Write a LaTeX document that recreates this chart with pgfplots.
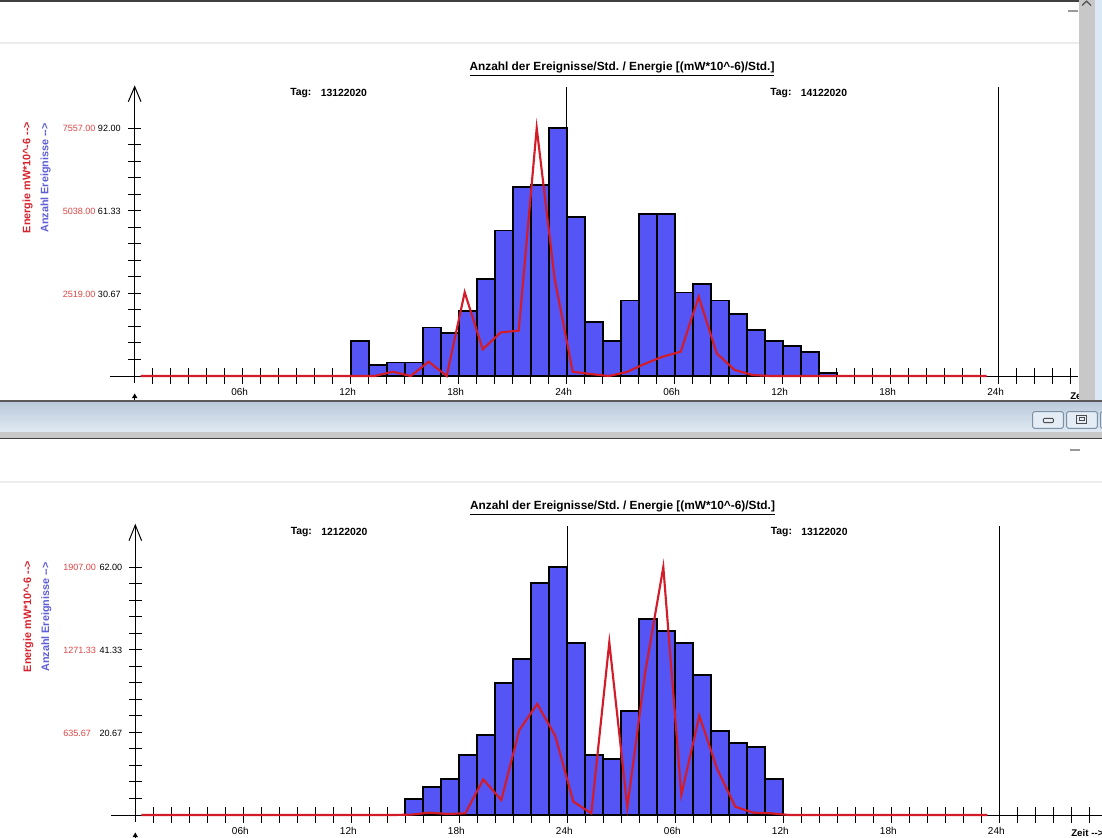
\documentclass[border=0pt]{standalone}
\usepackage{pgfplots}
\usepackage{pgfplotstable}
\pgfplotsset{compat=1.18}
\usepackage{fontspec}
\setmainfont{Liberation Sans}
\frenchspacing
\definecolor{barblue}{RGB}{85,85,245}
\definecolor{linered}{RGB}{212,28,40}
\definecolor{lblred}{RGB}{215,35,45}
\definecolor{tickred}{RGB}{222,70,70}
\definecolor{lblblue}{RGB}{95,95,215}
\definecolor{sepgray}{RGB}{236,236,236}
\definecolor{sbgray}{RGB}{200,200,200}
\definecolor{winblue}{RGB}{220,232,245}
\definecolor{tbtop}{RGB}{186,201,217}
\definecolor{tbbot}{RGB}{222,233,243}
\definecolor{btnborder}{RGB}{125,145,165}
\definecolor{btnfill}{RGB}{228,236,245}

\pgfplotstableread{
h n
12 13
13 4
14 5
15 5
16 18
17 16
18 24
19 36
20 54
21 70
22 71
23 92
24 59
25 20
26 13
27 28
28 60
29 60
30 31
31 34
32 28
33 23
34 17
35 13
36 11
37 9
38 1
39 0
}\topN

\pgfplotstableread{
h e
0 0
1 0
2 0
3 0
4 0
5 0
6 0
7 0
8 0
9 0
10 0
11 0
12 0
13 0
14 130
15 0
16 436
17 0
18 2550
19 813
20 1331
21 1381
22 7557
23 2946
24 131
25 60
26 0
27 120
28 370
29 590
30 740
31 2418
32 691
33 183
34 30
35 0
36 0
37 0
38 0
39 0
40 0
41 0
42 0
43 0
44 0
45 0
46 0
47 0
}\topE

\pgfplotstableread{
h n
15 4
16 7
17 9
18 15
19 20
20 33
21 39
22 58
23 62
24 43
25 15
26 14
27 26
28 49
29 46
30 43
31 35
32 21
33 18
34 17
35 9
36 0
}\botN

\pgfplotstableread{
h e
0 0
1 0
2 0
3 0
4 0
5 0
6 0
7 0
8 0
9 0
10 0
11 0
12 0
13 0
14 0
15 3
16 18
17 8
18 13
19 274
20 115
21 654
22 854
23 607
24 103
25 13
26 1328
27 59
28 1102
29 1907
30 154
31 764
32 351
33 64
34 18
35 13
36 0
37 0
38 0
39 0
40 0
41 0
42 0
43 0
44 0
45 0
46 0
47 0
}\botE

\newcommand\tl{\fontsize{6.8}{8}\selectfont}
\newcommand\xl{\fontsize{7.5}{9}\selectfont}
\newcommand\tagf{\fontsize{7.8}{9}\selectfont\bfseries}
\newcommand\zf{\fontsize{7.3}{9}\selectfont\bfseries}
\newcommand\ttl{\fontsize{8.9}{10}\selectfont\bfseries}
\newcommand\yl{\fontsize{8.1}{10}\selectfont\bfseries}
\newcommand\arr{-{}-{}>}

\begin{document}
\begin{tikzpicture}
\useasboundingbox (0pt,0pt) rectangle (826.5pt,-628.5pt);
\clip (0pt,0pt) rectangle (826.5pt,-628.5pt);
\fill[white] (0pt,0pt) rectangle (826.5pt,-628.5pt);

\begin{scope}[x=0.75pt,y=-0.75pt]
% ---------- top panel chrome ----------
\draw[line width=1.2pt, black!75] (0,0.8) -- (1079,0.8);
\draw[line width=1.5pt, sepgray] (0,42.7) -- (1079,42.7);
\draw[line width=0.8pt, black!40] (1068,11) -- (1078,11);

% ---------- top chart decorations ----------
\begin{scope}[line width=0.75pt, black]
\draw (134.7,86.7) -- (134.7,383);
\draw (128.3,101.7) -- (134.7,86.7) -- (141,101.7);
\foreach \k in {1,...,15} \draw (128.3,{376-16.533*\k}) -- (141,{376-16.533*\k});
\draw (110,376) -- (1078,376);
\foreach \k in {1,...,52} \draw ({134.7+18*\k},368) -- ({134.7+18*\k},384);
\draw (566.7,87) -- (566.7,376);
\draw (998.7,87) -- (998.7,376);
\end{scope}
\foreach \k/\lab in {1/06h,2/12h,3/18h,4/24h,5/06h,6/12h,7/18h,8/24h}
  \node[inner sep=0pt, font=\xl] at ({134.7+108*\k-3},391.7) {\lab};
\node[inner sep=0pt, anchor=west, font=\zf] at (1070,396) {Zeit \arr};
\node[inner sep=0pt, anchor=west, font=\tl, text=tickred] at (62.5,128.3) {7557.00};
\node[inner sep=0pt, anchor=west, font=\tl, text=tickred] at (62.5,211.3) {5038.00};
\node[inner sep=0pt, anchor=west, font=\tl, text=tickred] at (62.5,294.3) {2519.00};
\node[inner sep=0pt, anchor=west, font=\tl] at (97.7,128.3) {92.00};
\node[inner sep=0pt, anchor=west, font=\tl] at (97.7,211.3) {61.33};
\node[inner sep=0pt, anchor=west, font=\tl] at (97.7,294.3) {30.67};
\node[inner sep=0pt, rotate=90, font=\yl, text=lblred] at (27.5,177.5) {Energie mW*10\textasciicircum-6 \arr};
\node[inner sep=0pt, rotate=90, font=\yl, text=lblblue] at (45.5,178) {Anzahl Ereignisse \arr};
\node[inner sep=0pt, font=\ttl] at (622,69) {\underline{Anzahl der Ereignisse/Std. / Energie [(mW*10\textasciicircum-6)/Std.]}};
\node[inner sep=0pt, anchor=west, font=\tagf] at (290,92.7) {Tag:};
\node[inner sep=0pt, anchor=west, font=\tagf] at (320.5,92.7) {13122020};
\node[inner sep=0pt, anchor=west, font=\tagf] at (770,92.7) {Tag:};
\node[inner sep=0pt, anchor=west, font=\tagf] at (800.5,92.7) {14122020};
\draw[line width=0.75pt] (134.7,393.5) -- (134.7,401);
\fill (132,398) -- (134.7,393.5) -- (137.4,398) -- cycle;
\end{scope}

% ---------- top chart data ----------
\begin{axis}[at={(74.025pt,-302.22pt)}, anchor=south west, x=13.5pt, y=2.02174pt,
  xmin=-2, xmax=54, ymin=-10, ymax=110, hide axis, clip=false]
\addplot[ybar interval, fill=barblue, draw=black, line width=1.4pt] table[x=h, y=n] {\topN};
\addplot[linered, line width=1.6pt, sharp plot, mark=none] table[x expr=\thisrow{h}+1/3, y expr=\thisrow{e}*92/7557] {\topE};
\end{axis}

\begin{scope}[x=0.75pt,y=-0.75pt]
% ---------- bottom panel chrome ----------
\draw[line width=0.8pt, black!40] (1070,450) -- (1080,450);
\draw[line width=1.5pt, sepgray] (0,481.7) -- (1102,481.7);

% ---------- bottom chart decorations ----------
\begin{scope}[line width=0.75pt, black]
\draw (135.3,525) -- (135.3,822);
\draw (129,540.7) -- (135.3,525) -- (141.6,540.7);
\foreach \k in {1,...,15} \draw (129,{815-16.533*\k}) -- (141.6,{815-16.533*\k});
\draw (111,815) -- (1102,815);
\foreach \k in {1,...,53} \draw ({135.3+18*\k},807) -- ({135.3+18*\k},823);
\draw (567.3,526) -- (567.3,815);
\draw (999.3,526) -- (999.3,815);
\end{scope}
\foreach \k/\lab in {1/06h,2/12h,3/18h,4/24h,5/06h,6/12h,7/18h,8/24h}
  \node[inner sep=0pt, font=\xl] at ({135.3+108*\k-3},830.7) {\lab};
\node[inner sep=0pt, anchor=west, font=\zf] at (1071,833.5) {Zeit \arr};
\node[inner sep=0pt, anchor=west, font=\tl, text=tickred] at (63,567.3) {1907.00};
\node[inner sep=0pt, anchor=west, font=\tl, text=tickred] at (63,650.3) {1271.33};
\node[inner sep=0pt, anchor=west, font=\tl, text=tickred] at (63,733) {635.67};
\node[inner sep=0pt, anchor=west, font=\tl] at (99.3,567.3) {62.00};
\node[inner sep=0pt, anchor=west, font=\tl] at (99.3,650.3) {41.33};
\node[inner sep=0pt, anchor=west, font=\tl] at (99.3,733) {20.67};
\node[inner sep=0pt, rotate=90, font=\yl, text=lblred] at (28.3,616.5) {Energie mW*10\textasciicircum-6 \arr};
\node[inner sep=0pt, rotate=90, font=\yl, text=lblblue] at (46.3,617) {Anzahl Ereignisse \arr};
\node[inner sep=0pt, font=\ttl] at (622.5,508) {\underline{Anzahl der Ereignisse/Std. / Energie [(mW*10\textasciicircum-6)/Std.]}};
\node[inner sep=0pt, anchor=west, font=\tagf] at (290.5,531.7) {Tag:};
\node[inner sep=0pt, anchor=west, font=\tagf] at (321,531.7) {12122020};
\node[inner sep=0pt, anchor=west, font=\tagf] at (770.5,531.7) {Tag:};
\node[inner sep=0pt, anchor=west, font=\tagf] at (801,531.7) {13122020};
\draw[line width=0.75pt] (135.3,832.5) -- (135.3,838);
\fill (132.6,837) -- (135.3,832.5) -- (138,837) -- cycle;
\end{scope}

% ---------- bottom chart data ----------
\begin{axis}[at={(74.475pt,-626.25pt)}, anchor=south west, x=13.5pt, y=3pt,
  xmin=-2, xmax=54, ymin=-5, ymax=80, hide axis, clip=false]
\addplot[ybar interval, fill=barblue, draw=black, line width=1.4pt] table[x=h, y=n] {\botN};
\addplot[linered, line width=1.6pt, sharp plot, mark=none] table[x expr=\thisrow{h}+1/3, y expr=\thisrow{e}*62/1907] {\botE};
\end{axis}

\begin{scope}[x=0.75pt,y=-0.75pt]
% ---------- scrollbar and toolbar (on top) ----------
\fill[sbgray] (1079,0) rectangle (1094.5,401);
\fill[winblue] (1094.5,0) rectangle (1102,401);
\draw[line width=1pt, black!65] (1082,5.5) -- (1086.5,1.2) -- (1091,5.5);
\fill[top color=tbtop, bottom color=tbbot] (0,401) rectangle (1102,431.5);
\fill[sbgray] (0,431.5) rectangle (1102,438);
\draw[line width=1pt, black!65] (0,401) -- (1102,401);
\draw[line width=1pt, black!75] (0,438.6) -- (1102,438.6);
\draw[rounded corners=1.5pt, draw=btnborder, fill=btnfill, line width=0.75pt] (1032.7,411.7) rectangle (1063.3,428.3);
\draw[rounded corners=0.8pt, draw=black!70, line width=0.7pt] (1043.3,418.3) rectangle (1053.3,422.7);
\draw[rounded corners=1.5pt, draw=btnborder, fill=btnfill, line width=0.75pt] (1066.7,411.7) rectangle (1097.3,428.3);
\draw[draw=black!70, line width=0.7pt] (1076.7,415) rectangle (1086.7,423.3);
\draw[draw=black!70, line width=0.6pt] (1078.9,417.6) rectangle (1084.5,420.6);
\draw[rounded corners=1.5pt, draw=btnborder, fill=btnfill, line width=0.75pt] (1100.5,411.7) rectangle (1130,428.3);
\end{scope}
\end{tikzpicture}
\end{document}
